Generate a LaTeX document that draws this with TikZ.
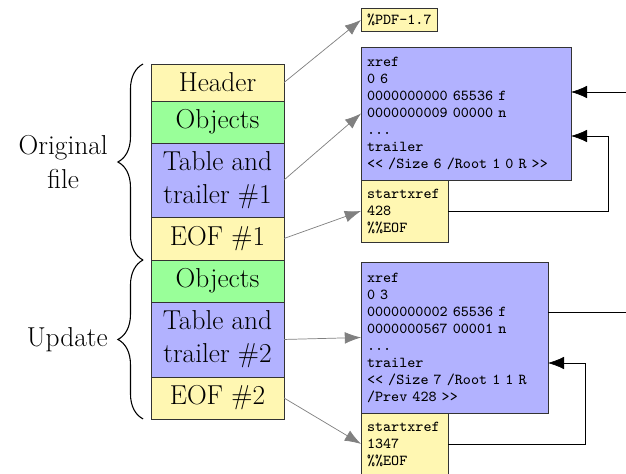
\documentclass[tikz,border=0pt]{standalone}
\usetikzlibrary{positioning,arrows.meta,decorations.pathreplacing}
\definecolor{pdfyellow}{RGB}{255,247,178}
\definecolor{pdfgreen}{RGB}{153,255,153}
\definecolor{pdfblue}{RGB}{178,178,255}
\tikzset{
 part/.style={draw=black!80,minimum width=73.9pt,inner sep=0pt,align=center,font=\fontsize{15.2}{18.5}\selectfont,outer sep=0pt},
 code/.style={draw=black!80,anchor=north west,align=left,font=\ttfamily\fontsize{8.45}{9.45}\selectfont,outer sep=0pt},
 link/.style={draw=gray,-{Latex[length=9pt,width=6.5pt]}},
 chain/.style={draw=black,-{Latex[length=9pt,width=7pt]}},
 group/.style={decorate,decoration={brace,amplitude=14pt},semithick},
}
\begin{document}
\begin{tikzpicture}[x=0.5556pt,y=-0.5556pt]
\useasboundingbox (0,0) rectangle (626,474);
% file layout
\coordinate (s0) at (217.5,64);
\foreach \t/\c/\h[count=\i from 0,evaluate=\i as\j using int(\i+1)] in {
 Header/pdfyellow/20.6,
 Objects/pdfgreen/23.3,
 {Table and\\trailer \#1}/pdfblue/41.1,
 EOF \#1/pdfyellow/23.9,
 Objects/pdfgreen/23.3,
 {Table and\\trailer \#2}/pdfblue/41.7,
 EOF \#2/pdfyellow/23.3
}
\node at(s\i.south)[anchor=north,part,fill=\c,minimum height=\h pt](s\j){\t};
% braces
\draw[group] ([xshift=-4.4pt]s4.south west) -- ([xshift=-4.4pt]s1.north west)
  node[midway,left=16pt,align=center,font=\fontsize{15.2}{18.5}\selectfont](orig){Original\\file};
\draw[group] ([xshift=-4.4pt]s7.south west) -- ([xshift=-4.4pt]s5.north west)
  node[midway,left=16pt,align=center,font=\fontsize{15.2}{18.5}\selectfont](upd){Update};
% contents
\node[code,fill=pdfyellow](pdf) at (361,8){\%PDF-1.7};
\node[code,fill=pdfblue,text width=110pt,minimum height=73.9pt](x1) at (361,47){xref\\0 6\\0000000000 65536 f\\0000000009 00000 n\\...\\trailer\\<< /Size 6 /Root 1 0 R >>};
\node[code,fill=pdfyellow,text width=41.7pt,minimum height=34.4pt](e1) at (x1.south west){startxref\\428\\\%\%EOF};
\node[code,fill=pdfblue,text width=97.2pt,minimum height=83.9pt](x2) at (361,262){xref\\0 3\\0000000002 65536 f\\0000000567 00001 n\\...\\trailer\\<< /Size 7 /Root 1 1 R\\/Prev 428 >>};
\node[code,fill=pdfyellow,text width=41.7pt,minimum height=34.4pt](e2) at (x2.south west){startxref\\1347\\\%\%EOF};
% pointers
\draw[link] (s1.east) -- (pdf.west);
\draw[link] (s3.east) -- (x1.west);
\draw[link] (s4.east) -- (e1.west);
\draw[link] (s6.east) -- (x2.west);
\draw[link] (s7.east) -- (e2.west);
\draw[chain] (x2.east |- 0,312) -- (640,312) |- (x1.east |- 0,92);
\draw[chain] (e1.east) -- ++(160,0) |- (x1.east |- 0,136);
\draw[chain] (e2.east) -- ++(137,0) |- (x2.east |- 0,363);
\end{tikzpicture}
\end{document}
